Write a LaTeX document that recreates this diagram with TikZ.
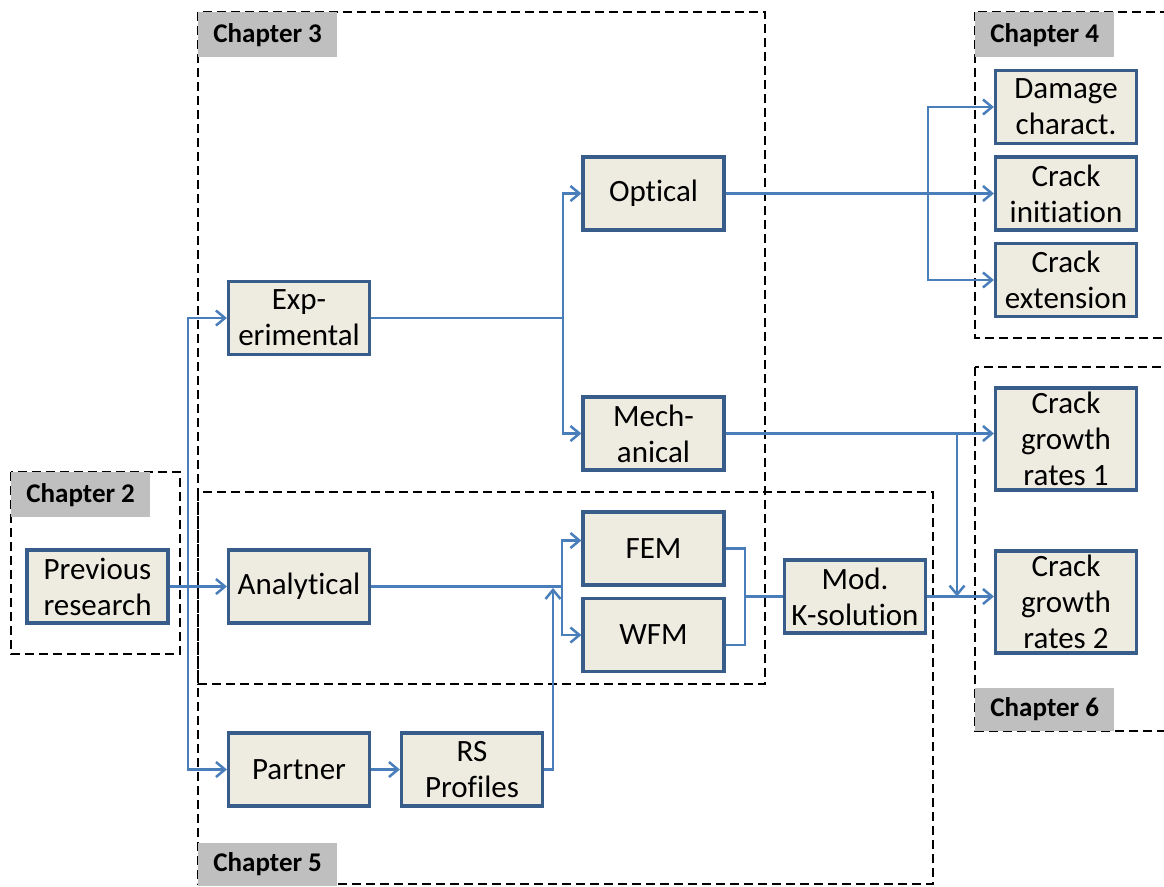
\documentclass[tikz,border=0pt]{standalone}
\usepackage{fontspec}
\setmainfont[Ligatures=NoCommon]{Carlito}
\usetikzlibrary{arrows.meta,calc}
\definecolor{boxfill}{HTML}{EEECE1}
\definecolor{boxline}{HTML}{385D8A}
\definecolor{connc}{HTML}{4A7EBB}
\definecolor{labgray}{HTML}{BFBFBF}
\begin{document}
\begin{tikzpicture}[x=1pt,y=-1pt,
  blk/.style={draw=boxline,line width=3.2pt,fill=boxfill,align=center,minimum width=141pt,minimum height=73pt,inner sep=1pt,font=\fontsize{31}{36}\selectfont},
  tallblk/.style={blk,minimum height=102pt},
  conn/.style={draw=connc,line width=2.5pt},
  arr/.style={conn,-{Straight Barb[length=9pt,width=15pt,line width=2.5pt]}},
  chap/.style={draw=black,line width=2.6pt,dash pattern=on 9pt off 5pt},
  lab/.style={fill=labgray,font=\bfseries\fontsize{27}{30}\selectfont,minimum width=139pt,minimum height=45pt,inner sep=0pt}
]
\useasboundingbox (0,0) rectangle (1164,886);
\clip (0,0) rectangle (1164,886);
% chapter frames
\draw[chap] (11,472) rectangle (180,654);
\draw[chap] (198,12) rectangle (765,684);
\draw[chap] (198,492) rectangle (933,884);
\draw[chap] (975,12) rectangle (1180,338);
\draw[chap] (975,367) rectangle (1180,731);
% chapter labels
\node[lab,anchor=north west] (l2) at (11,472) {Chapter 2};
\node[lab,anchor=north west] (l3) at (198,12) {Chapter 3};
\node[lab,anchor=north west] (l4) at (975,12) {Chapter 4};
\node[lab,anchor=south west,minimum height=43pt] (l5) at (198,886) {Chapter 5};
\node[lab,anchor=south west,minimum height=43pt] (l6) at (975,731) {Chapter 6};
% blocks
\node[blk] (prev) at (97.5,586.5) {Previous\\research};
\node[blk] (exp) at (299,318) {Exp-\\erimental};
\node[blk] (ana) at (299,586.5) {Analytical};
\node[blk] (partner) at (299,769.5) {Partner};
\node[blk] (rs) at (472,769.5) {RS\\Profiles};
\node[blk] (opt) at (653.5,193.5) {Optical};
\node[blk] (mech) at (653.5,433.5) {Mech-\\anical};
\node[blk] (fem) at (653.5,548.5) {FEM};
\node[blk] (wfm) at (653.5,635) {WFM};
\node[blk] (mod) at (855,596.5) {Mod.\\K-solution};
\node[blk] (dmg) at (1066,107) {Damage\\charact.};
\node[blk] (ini) at (1066,193.5) {Crack\\initiation};
\node[blk] (ext) at (1066,280) {Crack\\extension};
\node[tallblk] (cgr1) at (1066,439) {Crack\\growth\\rates 1};
\node[tallblk] (cgr2) at (1066,602) {Crack\\growth\\rates 2};
% connectors
\coordinate (j1) at (188,586.5);
\draw[arr] (prev.east) -- (ana.west);
\draw[arr] (j1) |- (exp.west);
\draw[arr] (j1) |- (partner.west);
\draw[arr] (partner.east) -- (rs.west);
\coordinate (j3) at (563,318);
\draw[conn] (exp.east) -- (j3);
\draw[arr] (j3) |- (opt.west);
\draw[arr] (j3) |- (mech.west);
\coordinate (j5) at (562,586.5);
\draw[conn] (ana.east) -- (j5);
\draw[arr] (j5) |- ($(fem.west)+(0,-8)$);
\draw[arr] (j5) |- (wfm.west);
\coordinate (j6) at (553,588);
\draw[arr] (rs.east) -| (j6);
\coordinate (jb) at (745,596.5);
\draw[conn] (fem.east) -| (jb);
\draw[conn] ($(wfm.east)+(0,10)$) -| (jb);
\draw[conn] (jb) -- (mod.west);
\draw[arr] (mod.east) -- (mod.east -| cgr2.west);
\draw[arr] (mech.east) -- (mech.east -| cgr1.west);
\coordinate (jm) at (957,433.5);
\draw[arr] (jm) -- (jm |- mod.east);
\draw[arr] (opt.east) -- (opt.east -| ini.west);
\coordinate (j4) at (928,193.5);
\draw[arr] (j4) |- (dmg.west);
\draw[arr] (j4) |- (ext.west);
\end{tikzpicture}
\end{document}
